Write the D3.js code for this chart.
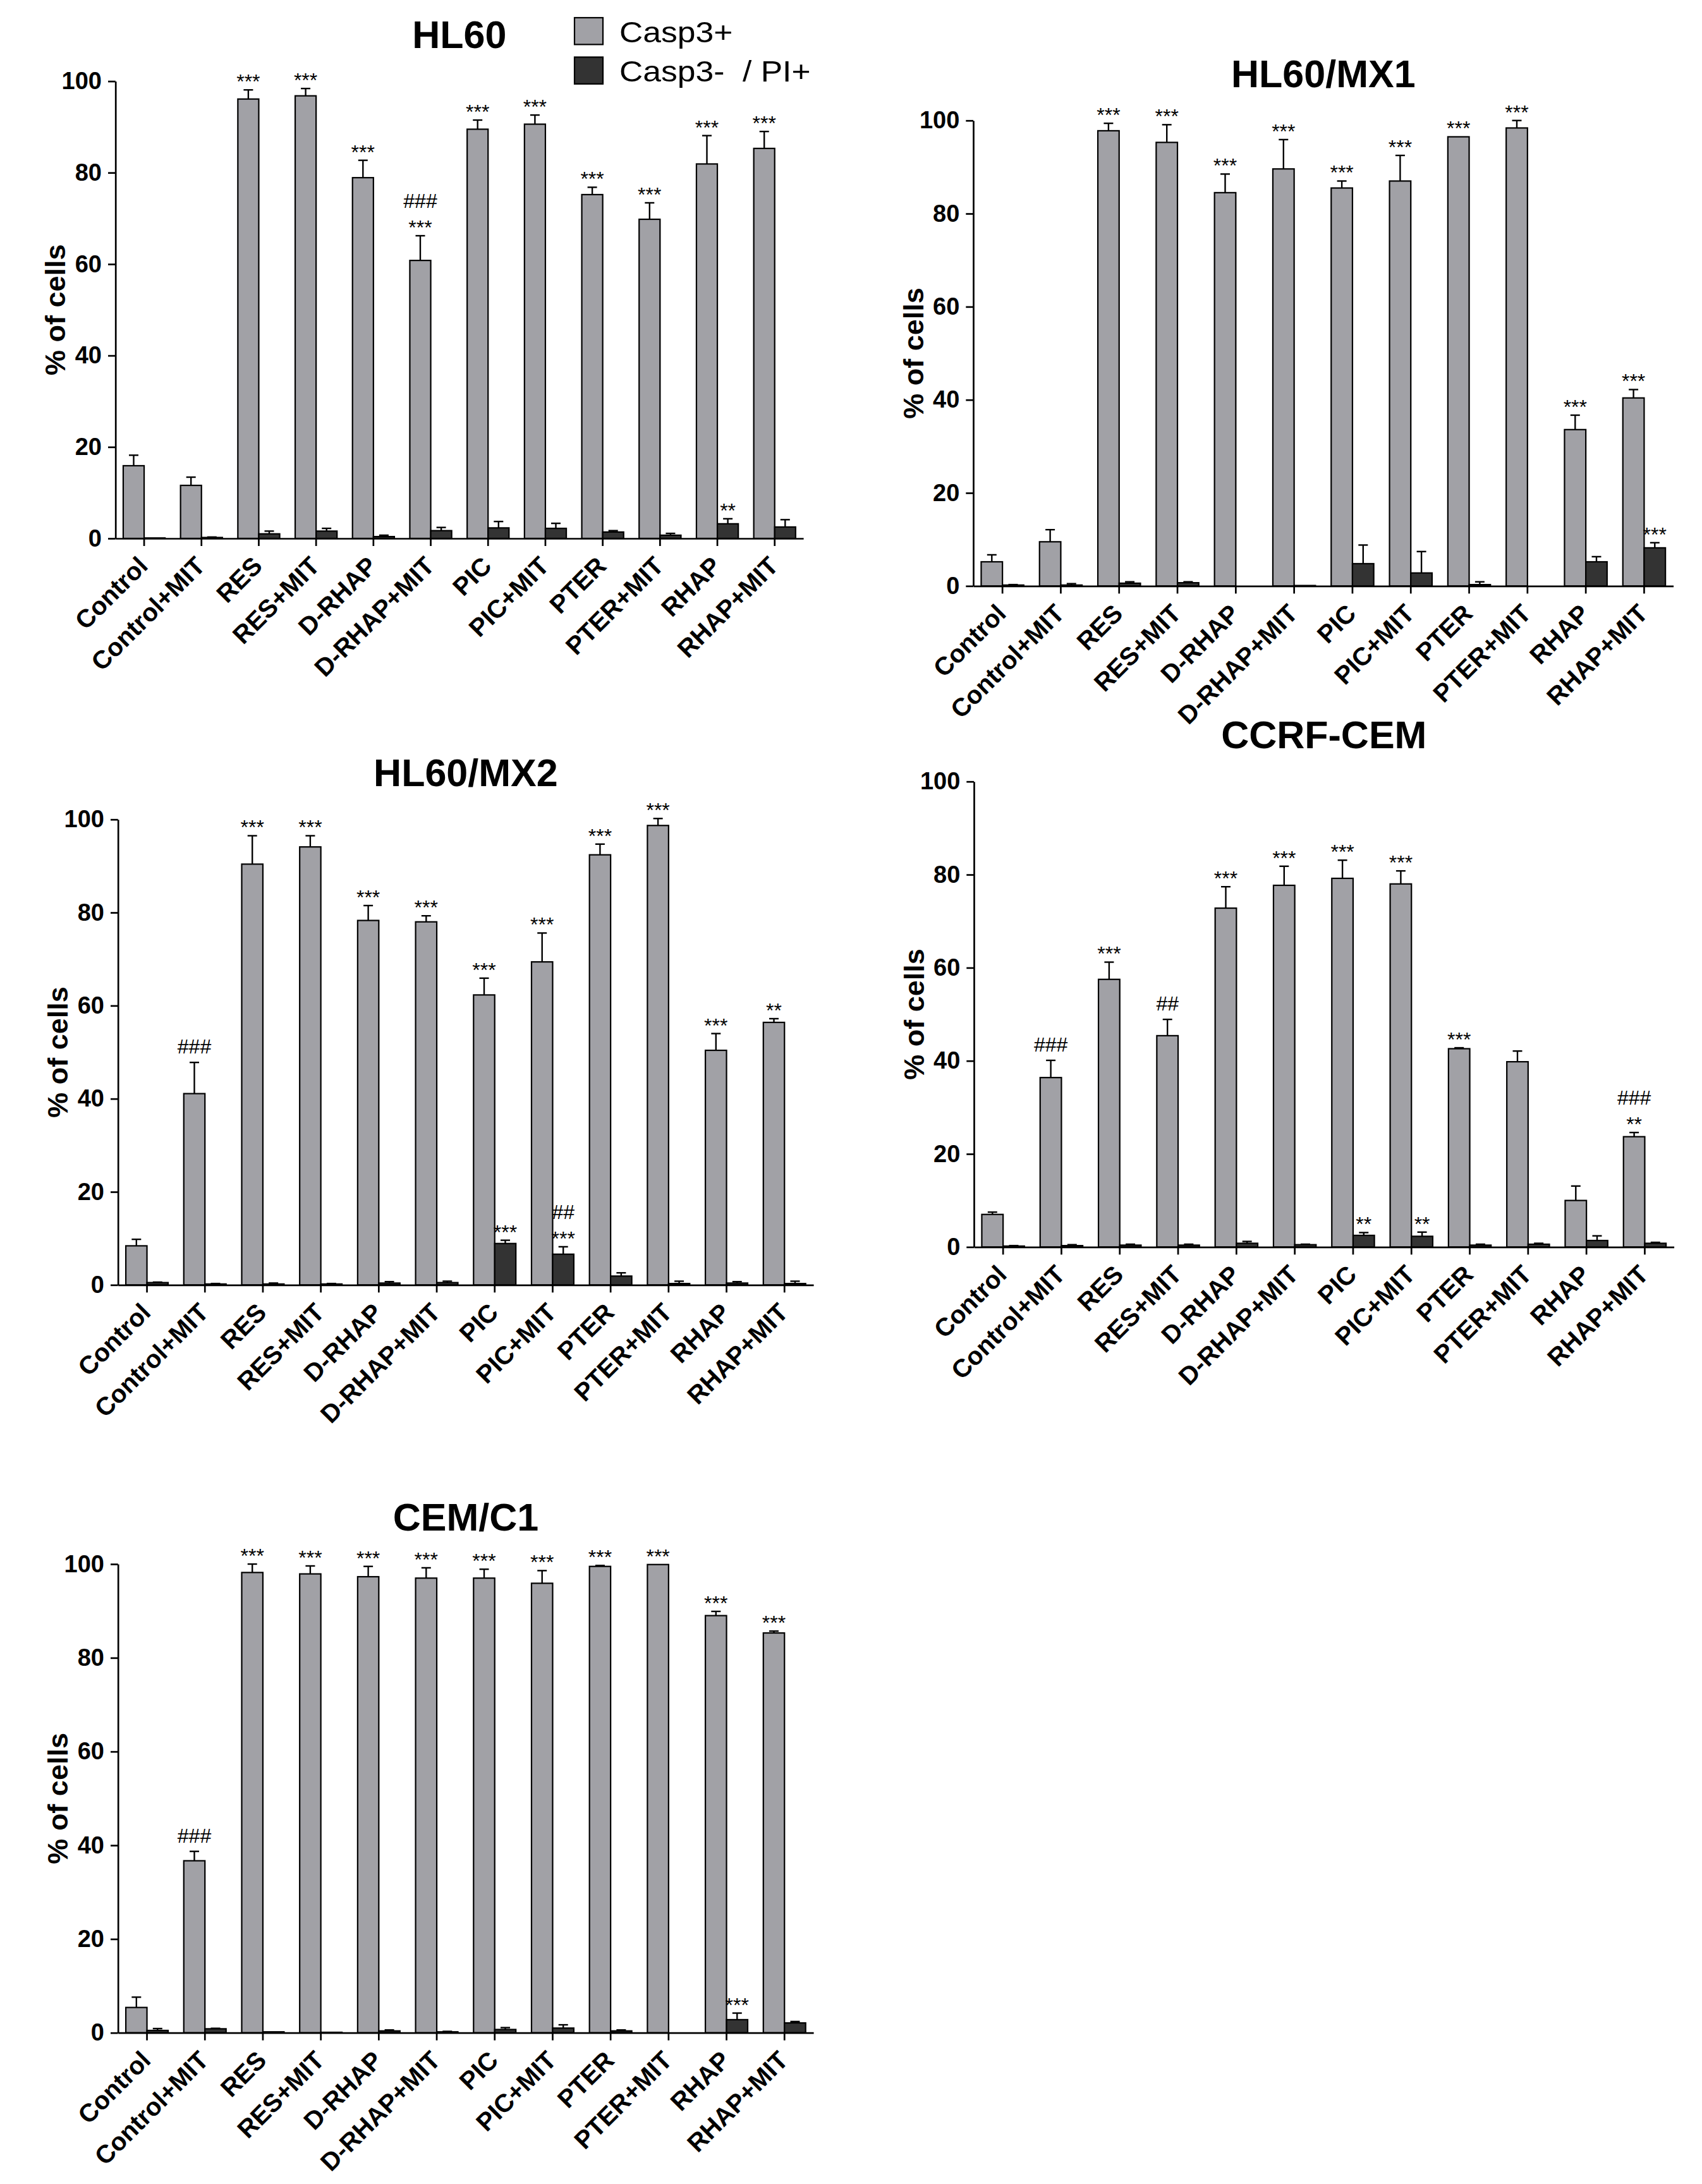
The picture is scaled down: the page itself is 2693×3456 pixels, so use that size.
<!DOCTYPE html>
<html>
<head>
<style>
  body { margin: 0; background: #fff; }
  text { font-family: "Liberation Sans", Arial, sans-serif; }
</style>
</head>
<body>
<svg width="2693" height="3456"></svg>
<script src="https://d3js.org/d3.v7.min.js"></script>
<script>
// groups on the x axis
const categories = ["Control", "Control+MIT", "RES", "RES+MIT", "D-RHAP", "D-RHAP+MIT",
                    "PIC", "PIC+MIT", "PTER", "PTER+MIT", "RHAP", "RHAP+MIT"];
const series = ["Casp3+", "Casp3-  / PI+"];
const yTicks = [0, 20, 40, 60, 80, 100];

// HL60
const hl60Casp    = [15.9, 11.6, 96.1, 96.8, 78.9, 60.8, 89.5, 90.6, 75.2, 69.8, 81.9, 85.3];
const hl60CaspSd  = [2.3, 1.8, 2.0, 1.6, 3.8, 5.4, 2.0, 2.0, 1.6, 3.6, 6.2, 3.7];
const hl60Pi      = [0.1, 0.2, 1.0, 1.6, 0.4, 1.7, 2.3, 2.2, 1.4, 0.7, 3.2, 2.5];
const hl60PiSd    = [0, 0.1, 0.6, 0.6, 0.3, 0.7, 1.4, 1.1, 0.3, 0.4, 1.1, 1.6];
const hl60CaspSig = ["", "", "***", "***", "***", "###\n***", "***", "***", "***", "***", "***", "***"];
const hl60PiSig   = ["", "", "", "", "", "", "", "", "", "", "**", ""];

// HL60/MX1
const mx1Casp    = [5.2, 9.5, 97.8, 95.3, 84.5, 89.6, 85.5, 87.0, 96.5, 98.4, 33.6, 40.4];
const mx1CaspSd  = [1.5, 2.6, 1.6, 3.8, 4.0, 6.3, 1.5, 5.5, 0, 1.6, 3.1, 1.8];
const mx1Pi      = [0.2, 0.2, 0.6, 0.7, 0, 0.1, 4.8, 2.8, 0.3, 0, 5.2, 8.2];
const mx1PiSd    = [0.1, 0.3, 0.3, 0.2, 0, 0, 4.0, 4.6, 0.6, 0, 1.1, 1.1];
const mx1CaspSig = ["", "", "***", "***", "***", "***", "***", "***", "***", "***", "***", "***"];
const mx1PiSig   = ["", "", "", "", "", "", "", "", "", "", "", "***"];

// HL60/MX2
const mx2Casp    = [8.4, 41.1, 90.4, 94.1, 78.3, 78.0, 62.3, 69.4, 92.4, 98.7, 50.4, 56.4];
const mx2CaspSd  = [1.4, 6.7, 6.1, 2.4, 3.2, 1.3, 3.6, 6.2, 2.3, 1.5, 3.6, 0.8];
const mx2Pi      = [0.5, 0.2, 0.2, 0.2, 0.4, 0.5, 8.9, 6.6, 1.9, 0.3, 0.4, 0.3];
const mx2PiSd    = [0.1, 0.1, 0.2, 0.1, 0.3, 0.3, 0.7, 1.6, 0.7, 0.5, 0.3, 0.5];
const mx2CaspSig = ["", "###", "***", "***", "***", "***", "***", "***", "***", "***", "***", "**"];
const mx2PiSig   = ["", "", "", "", "", "", "***", "##\n***", "", "", "", ""];

// CCRF-CEM
const ccrfCasp    = [7.0, 36.4, 57.5, 45.4, 72.8, 77.7, 79.2, 78.0, 42.6, 39.8, 10.0, 23.7];
const ccrfCaspSd  = [0.5, 3.7, 3.7, 3.5, 4.6, 4.1, 3.9, 2.8, 0.2, 2.3, 3.1, 0.9];
const ccrfPi      = [0.2, 0.3, 0.4, 0.4, 0.8, 0.5, 2.5, 2.3, 0.4, 0.6, 1.4, 0.8];
const ccrfPiSd    = [0.1, 0.2, 0.2, 0.2, 0.4, 0.1, 0.6, 0.9, 0.2, 0.2, 1.0, 0.2];
const ccrfCaspSig = ["", "###", "***", "##", "***", "***", "***", "***", "***", "", "", "###\n**"];
const ccrfPiSig   = ["", "", "", "", "", "", "**", "**", "", "", "", ""];

// CEM/C1
const c1Casp    = [5.4, 36.7, 98.2, 97.9, 97.3, 97.0, 97.0, 95.9, 99.5, 99.9, 89.0, 85.3];
const c1CaspSd  = [2.2, 2.0, 1.8, 1.7, 2.2, 2.2, 1.9, 2.7, 0.2, 0, 0.9, 0.4];
const c1Pi      = [0.5, 0.85, 0.2, 0.1, 0.4, 0.2, 0.7, 1.0, 0.4, 0, 2.8, 2.1];
const c1PiSd    = [0.4, 0.1, 0, 0, 0.2, 0.1, 0.4, 0.7, 0.2, 0, 1.4, 0.3];
const c1CaspSig = ["", "###", "***", "***", "***", "***", "***", "***", "***", "***", "***", "***"];
const c1PiSig   = ["", "", "", "", "", "", "", "", "", "", "***", ""];

const colors = ["#a1a1a6", "#333333"];

// panel frames (left of y axis, band step, y of 0 and of 100)
const panels = [
    {title: "HL60",     left: 182.7, step: 90.7, bottom: 852,    top: 128.5,
     casp: hl60Casp, caspSd: hl60CaspSd, pi: hl60Pi, piSd: hl60PiSd, caspSig: hl60CaspSig, piSig: hl60PiSig},
    {title: "HL60/MX1", left: 1540,  step: 92.3, bottom: 927.3,  top: 190.7,
     casp: mx1Casp, caspSd: mx1CaspSd, pi: mx1Pi, piSd: mx1PiSd, caspSig: mx1CaspSig, piSig: mx1PiSig},
    {title: "HL60/MX2", left: 186.7, step: 91.7, bottom: 2033.3, top: 1296.7,
     casp: mx2Casp, caspSd: mx2CaspSd, pi: mx2Pi, piSd: mx2PiSd, caspSig: mx2CaspSig, piSig: mx2PiSig},
    {title: "CCRF-CEM", left: 1541,  step: 92.3, bottom: 1973.3, top: 1236.7,
     casp: ccrfCasp, caspSd: ccrfCaspSd, pi: ccrfPi, piSd: ccrfPiSd, caspSig: ccrfCaspSig, piSig: ccrfPiSig},
    {title: "CEM/C1",   left: 186.7, step: 91.7, bottom: 3216.7, top: 2475,
     casp: c1Casp, caspSd: c1CaspSd, pi: c1Pi, piSd: c1PiSd, caspSig: c1CaspSig, piSig: c1PiSig}
];

const svg = d3.select("svg");

function drawPanel(p) {
    const width = p.step * categories.length,
        height = p.bottom - p.top;
    const g = svg.append("g").attr("transform", "translate(" + p.left + "," + p.top + ")");

    const x = d3.scaleBand().domain(categories).range([0, width])
        .paddingInner(0.27).paddingOuter(0.135);
    const xs = d3.scaleBand().domain(series).range([0, x.bandwidth()]);
    const y = d3.scaleLinear().domain([0, 100]).range([height, 0]);

    const rows = [];
    categories.forEach(function(c, i) {
        rows.push({cat: c, s: series[0], v: p.casp[i], sd: p.caspSd[i], sig: p.caspSig[i], k: 0});
        rows.push({cat: c, s: series[1], v: p.pi[i], sd: p.piSd[i], sig: p.piSig[i], k: 1});
    });

    g.selectAll(".bar").data(rows).enter().append("rect")
        .attr("class", "bar")
        .attr("x", function(d) { return x(d.cat) + xs(d.s); })
        .attr("width", xs.bandwidth())
        .attr("y", function(d) { return y(d.v); })
        .attr("height", function(d) { return height - y(d.v); })
        .attr("fill", function(d) { return colors[d.k]; })
        .attr("stroke", "#000")
        .attr("stroke-width", 2.2);

    const err = g.selectAll(".err").data(rows.filter(function(d) { return d.sd > 0; }))
        .enter().append("g").attr("class", "err")
        .attr("stroke", "#000").attr("stroke-width", 2.4);
    err.append("line")
        .attr("x1", function(d) { return x(d.cat) + xs(d.s) + xs.bandwidth() / 2; })
        .attr("x2", function(d) { return x(d.cat) + xs(d.s) + xs.bandwidth() / 2; })
        .attr("y1", function(d) { return y(d.v); })
        .attr("y2", function(d) { return y(d.v + d.sd); });
    err.append("line")
        .attr("x1", function(d) { return x(d.cat) + xs(d.s) + xs.bandwidth() / 2 - 7.5; })
        .attr("x2", function(d) { return x(d.cat) + xs(d.s) + xs.bandwidth() / 2 + 7.5; })
        .attr("y1", function(d) { return y(d.v + d.sd); })
        .attr("y2", function(d) { return y(d.v + d.sd); });

    // significance marks, bottom line first
    rows.filter(function(d) { return d.sig; }).forEach(function(d) {
        const lines = d.sig.split("\n").reverse();
        const cx = x(d.cat) + xs(d.s) + xs.bandwidth() / 2;
        const base = y(d.v + d.sd) - 2;
        lines.forEach(function(t, j) {
            const yy = base - (t.charAt(0) === "#" ? 12 : 0) - j * 30;
            g.append("text")
                .attr("x", cx).attr("y", yy)
                .attr("text-anchor", "middle")
                .attr("font-size", 32)
                .text(t);
        });
    });

    const yAxis = g.append("g")
        .call(d3.axisLeft(y).tickValues(yTicks).tickSize(11.7).tickSizeOuter(0).tickPadding(10));
    yAxis.selectAll("text").attr("font-size", 38).attr("font-weight", "bold")
        .attr("font-family", "'Liberation Sans', Arial, sans-serif").attr("fill", "#000");

    const xAxis = g.append("g").attr("transform", "translate(0," + height + ")")
        .call(d3.axisBottom(x).tickSizeInner(12).tickSizeOuter(0));
    xAxis.selectAll("text")
        .attr("x", 0).attr("y", 0).attr("dy", 0)
        .attr("transform", "translate(8,46) rotate(-45)")
        .attr("text-anchor", "end")
        .attr("font-size", 40).attr("font-weight", "bold")
        .attr("font-family", "'Liberation Sans', Arial, sans-serif").attr("fill", "#000");

    svg.selectAll(".domain, .tick line").attr("stroke", "#000").attr("stroke-width", 2.7);

    g.append("text")
        .attr("transform", "translate(-95," + height / 2 + ") rotate(-90)")
        .attr("text-anchor", "middle")
        .attr("dy", "0.35em")
        .attr("font-size", 45).attr("font-weight", "bold")
        .text("% of cells");

    g.append("text")
        .attr("x", width / 2).attr("y", -53)
        .attr("text-anchor", "middle")
        .attr("font-size", 61).attr("font-weight", "bold")
        .text(p.title);
}

panels.forEach(drawPanel);

// legend
const legend = svg.append("g").attr("transform", "translate(909,28)");
const li = legend.selectAll(".item").data(series).enter().append("g")
    .attr("transform", function(d, i) { return "translate(0," + i * 62.4 + ")"; });
li.append("rect")
    .attr("width", 45).attr("height", 42.4)
    .attr("fill", function(d, i) { return colors[i]; })
    .attr("stroke", "#000").attr("stroke-width", 2.2);
li.append("text")
    .attr("transform", "translate(71,38.5) scale(1.11,1)")
    .attr("font-size", 46.5)
    .attr("xml:space", "preserve")
    .style("white-space", "pre")
    .text(function(d) { return d; });
</script>
</body>
</html>
